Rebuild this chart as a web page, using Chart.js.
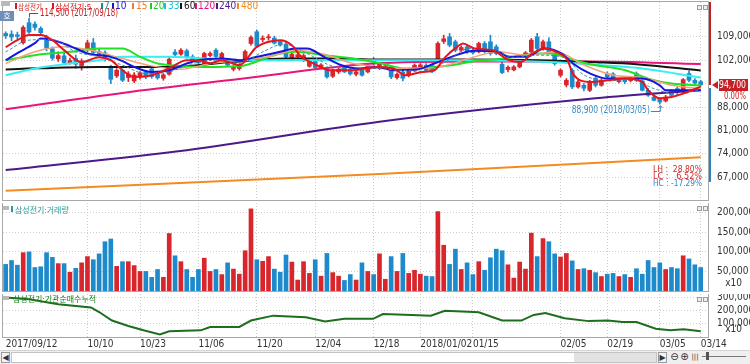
<!DOCTYPE html>
<html>
<head>
<meta charset="utf-8">
<script src="https://cdn.jsdelivr.net/npm/chart.js@4.4.0/dist/chart.umd.min.js"></script>
<style>
  body { margin: 0; width: 750px; height: 364px; overflow: hidden; background: #fff; position: relative; }
  canvas { position: absolute; left: 0; }
  .ui { position: absolute; box-sizing: border-box; font: 8px 'DejaVu Sans', sans-serif; color: #333; text-align: center; }
</style>
</head>
<body>
<canvas id="price" width="750" height="203" style="top:0"></canvas>
<canvas id="vol" width="750" height="91" style="top:203px"></canvas>
<canvas id="inst" width="750" height="56" style="top:294px"></canvas>

<div class="ui" style="left:0;top:350px;width:750px;height:14px;background:#efefef;border-top:1px solid #d4d4d4"></div>
<div class="ui" style="left:1px;top:352px;width:9px;height:11px;border:1px solid #9a9a9a;background:#f4f4f4;line-height:9px">&#9664;</div>
<div class="ui" style="left:11px;top:352px;width:646px;height:11px;border:1px solid #c4c4c4;background:#fff"></div>
<div class="ui" style="left:574px;top:353px;width:82px;height:9px;background:#e2e2e2"></div>
<div class="ui" style="left:658px;top:352px;width:9px;height:11px;border:1px solid #9a9a9a;background:#f4f4f4;line-height:9px">&#9654;</div>
<div class="ui" style="left:670px;top:351px;width:9px;height:12px;font-size:10px;line-height:12px">&#8854;</div>
<div class="ui" style="left:680px;top:351px;width:9px;height:12px;font-size:10px;line-height:12px">&#8853;</div>
<div class="ui" style="left:691px;top:352px;width:8px;height:11px;font-size:7px;line-height:11px">|||</div>
<div class="ui" style="left:702px;top:356px;width:44px;height:1px;background:#777"></div>
<div class="ui" style="left:706px;top:352px;width:3px;height:8px;background:#555"></div>

<script>
// ---- data -------------------------------------------------------------
const dateIdx    = [0, 14, 23, 33, 43, 53, 63, 71, 80, 95, 103, 112, 119];
const dateLabels = ['2017/09/12', '10/10', '10/23', '11/06', '11/20', '12/04', '12/18',
                    '2018/01/02', '01/15', '02/05', '02/19', '03/05', '03/14'];
const highDate = '2017/09/18';
const lowDate  = '2018/03/05';

const opens = [
  110000,109800,109600,107200,113200,112800,111500,108800,105400,102400,
  103300,101200,102500,100400,105300,107200,104600,104200,99800,97300,
  99000,96800,95800,97000,98500,99400,97900,96600,97800,104400,
  103800,104800,103000,102000,101000,103400,105000,102600,102000,99300,
  99500,101800,107000,110500,108200,108700,108600,107600,106800,102400,
  103000,102000,100200,102000,99700,99500,97200,98500,100000,99000,
  97800,99000,98500,101600,99600,99800,100000,96800,98400,97500,
  99000,100000,100500,100400,102400,107600,109000,107500,105000,106000,
  105000,104500,107000,107500,106000,100800,99200,99100,100000,103400,
  104500,109000,105500,107500,104000,97500,94600,99000,94000,94500,
  93000,96600,94500,98000,97900,95600,96000,95900,98000,95800,
  93000,91000,90600,89800,92800,93500,92500,98000,96000,95600];
const highs = [
  110500,110800,110400,112300,114500,113500,112000,109500,106000,104500,
  104200,102600,103500,102400,108000,108500,105500,104800,100500,99500,
  99400,98600,98300,98600,99000,99800,98400,98000,102800,105200,
  105500,105300,103600,102800,104400,104500,105500,104400,102500,100400,
  100900,105000,109300,111000,109300,109700,109200,108000,107500,104300,
  104200,103900,102400,102500,101000,100000,99400,99700,100500,99500,
  98900,99600,100800,102800,101300,100700,100400,98200,99000,99300,
  100900,101000,101000,100800,107500,109500,110000,108000,106300,106500,
  105600,107400,107600,109500,106600,101500,100300,100400,101900,104600,
  108500,110000,108000,108700,104500,99400,96500,99500,96000,95000,
  96000,97000,96500,98500,98300,96500,96500,96800,98500,96200,
  93500,91700,90800,91500,93200,94000,96500,98800,96500,96000];
const lows = [
  108500,107800,108300,106800,110000,111000,109500,104800,102000,101600,
  100800,100800,99600,99000,104500,103900,103000,101700,95000,96800,
  95600,95600,95300,96300,96500,96600,96300,96000,97500,103000,
  103400,102600,101800,100800,100600,103000,102800,102200,100200,98800,
  99000,101500,106500,105800,107500,108000,106800,106200,102500,102000,
  102700,101600,99900,99500,99400,96600,96800,98000,98300,97500,
  97300,97200,98200,99500,99200,99500,96500,96300,95800,97000,
  98600,99600,98700,98300,101800,107000,106000,104500,104600,104000,
  103800,104200,104200,103500,103600,98000,98500,98800,99700,103000,
  104000,105000,105000,104000,100500,97000,94000,93500,93600,92800,
  92600,94000,94200,96500,96000,95200,95000,95500,95600,92800,
  91200,89800,88900,89500,91200,92000,92200,95500,94800,94200];
const closes = [
  109300,108900,109100,111800,110400,111800,110200,105600,102600,103400,
  101300,101900,100800,101800,107200,104300,103600,102300,96300,99000,
  96000,97900,97600,98200,97000,97100,96700,97600,102300,103700,
  105000,103000,102200,101200,104000,104000,103100,104000,100500,100000,
  100500,104600,108800,106200,108600,109000,107100,106500,103000,103800,
  103600,103400,102000,99800,100600,97000,99000,99300,98500,97900,
  98500,97500,100300,101400,100800,100300,97000,97800,96600,99000,
  100500,100600,99000,98700,107000,108400,106500,105000,105800,104500,
  104200,107000,104600,104000,104000,98300,99900,100000,101500,104200,
  108000,105500,107500,104500,101000,99000,96000,94000,95500,93600,
  95600,94500,96000,97000,96300,96100,95600,96400,96000,93000,
  91500,90000,89500,91000,91500,92300,96200,96000,95200,94700];
const volumes = [
  68000,78000,66000,98000,100000,60000,62000,98000,86000,70000,
  70000,48000,58000,72000,88000,80000,95000,126000,133000,63000,
  75000,75000,65000,50000,50000,35000,55000,35000,147000,90000,
  75000,55000,35000,55000,84000,50000,55000,42000,72000,56000,
  43000,103000,210000,80000,76000,88000,56000,48000,92000,74000,
  28000,75000,45000,80000,38000,96000,47000,38000,27000,42000,
  28000,72000,50000,42000,95000,30000,88000,50000,96000,45000,
  53000,43000,38000,37000,203000,117000,68000,107000,55000,72000,
  42000,75000,53000,85000,107000,103000,67000,33000,74000,56000,
  148000,88000,134000,126000,95000,87000,96000,77000,55000,57000,
  53000,47000,37000,43000,45000,37000,42000,35000,57000,43000,
  78000,60000,72000,55000,60000,57000,90000,82000,67000,60000];

// moving averages: [candle index, price]
const ma5 = [[0,105900],[2,108000],[4,109500],[6,109500],[8,108000],[10,105000],[13,101400],[16,102900],[18,102000],[20,99000],[22,97000],[25,97500],[28,99600],[31,102000],[33,102000],[35,101100],[37,102000],[40,100500],[43,106000],[47,108000],[49,106500],[50.6,103000],[52.6,101100],[55.5,99000],[59.5,99000],[63.5,100000],[66.4,99500],[68.4,97500],[71.4,98500],[73.4,99000],[75.3,103000],[77.3,106000],[78.3,107000],[80.3,105500],[83.3,105000],[86.2,102000],[88.2,101500],[90.2,104000],[92.2,105500],[94.2,104500],[96.2,102000],[97.1,98000],[100.1,95500],[103.1,96000],[106.1,96500],[109,95500],[110,93000],[112,90600],[114,91000],[116,92000],[119,94100]];
const ma7 = [[0,104500],[4,108000],[8,108200],[12,104500],[16,103000],[20,100500],[24,98000],[28,98500],[32,101000],[36,102000],[40,101000],[44,104500],[47.6,106800],[51.6,104000],[55.5,100500],[59.5,99300],[63.5,99500],[67.4,99000],[71.4,98700],[75.3,101500],[79.3,105500],[83.3,105200],[87.2,102800],[91.2,103500],[95.2,103000],[99.1,97500],[103.1,95800],[107,96300],[111,93500],[115,91800],[119,93300]];
const ma10 = [[0,102000],[2,104100],[5,107100],[6,108500],[9,107500],[12,105500],[14,104000],[18,103000],[20,101700],[22,100000],[25,98500],[28,99000],[31,101000],[33,102000],[37,102500],[40,102000],[43,103000],[47,104500],[49.6,105500],[51.6,105500],[54.5,103000],[57.5,100500],[60.5,99500],[63.5,100000],[66.4,99000],[70.4,99200],[73.4,101000],[76.3,103000],[80.3,104800],[84.3,104500],[86.2,103000],[89.2,103000],[92.2,105500],[95.2,104000],[97.1,101000],[100.1,98000],[103.1,96500],[109,96500],[112,94500],[113,93000],[119,93000]];
const ma15 = [[0,101000],[5,104500],[10,106000],[15,104800],[20,102500],[25,100300],[30,99300],[35,101000],[40,102000],[45,103000],[49.6,105000],[54.5,103800],[59.5,101000],[64.4,100000],[69.4,99500],[74.4,100000],[79.3,102500],[84.3,104500],[89.2,103500],[94.2,104500],[99.1,100500],[104.1,97500],[109,96800],[114,94500],[119,93500]];
const ma20 = [[0,102000],[5,103500],[11,104500],[16,105500],[20,105500],[23,103000],[26,101000],[28,100500],[34,100000],[40,100200],[46,103500],[49.6,104500],[54.5,103500],[59.5,102500],[64.4,101000],[68.4,99500],[72.4,99800],[76.3,100500],[80.3,101700],[85.3,102500],[91.2,104000],[93.2,104000],[97.1,102200],[100.1,100800],[106.1,99000],[110,96500],[114,95000],[119,94500]];
const ma33 = [[0,97500],[5,99500],[11,101000],[16,102000],[20,103000],[28,103000],[40,102000],[59.5,102000],[79.3,102000],[94.2,101400],[102.1,100500],[109,99500],[119,96800]];
const ma60 = [[0,99250],[16,100000],[28,100000],[39,101500],[48,102500],[56.5,102500],[63.5,102200],[79.3,102200],[91.2,102000],[101.1,101400],[108,100800],[119,98900]];
const ma120 = [[0,87300],[20,92200],[40,96350],[63,101000],[80,101600],[100,101600],[119,100850]];
const ma240 = [[0,69150],[31,75100],[64,83600],[101,90600],[119,93000]];
const ma480 = [[0,62950],[64,67950],[119,72950]];

// institutional net buying, cumulative (x10)
const instIdx = [0,4,9,14.6,16,18.2,21,23.6,26.4,28,33.4,35,40,42,45.8,51.4,54.7,58,62.9,64.6,69.5,72.8,75.2,81,85,88.3,90.4,92.4,95.7,99.8,103.1,105.6,108,111.3,113.8,116.1,119];
const instVal = [297800,285200,248100,223700,188900,124400,83000,50400,18500,43000,50400,75600,75600,124400,161500,149600,117000,137000,137000,174000,166700,161500,198500,186700,124400,124400,166700,181500,142200,120000,124400,112600,112600,63000,50400,57800,43000];

const priceTicks = [67000, 74000, 81000, 88000, 95000, 102000, 109000];
const volTicks = [50000, 100000, 150000, 200000];
const instTicks = [100000, 200000, 300000];

// ---- setup ------------------------------------------------------------
const NUM = "'Liberation Sans Narrow','DejaVu Sans Condensed','Liberation Sans',sans-serif";
const KR = "'Noto Sans CJK KR','Noto Sans',sans-serif";
const RED = '#d8262c';
const BLUE = '#1d8bcb';
const GRID = '#cdcdcd';
const idx = opens.map((_, i) => i);
const barColor = idx.map(i => closes[i] >= opens[i] ? RED : BLUE);
const comma = v => v.toLocaleString('en-US');

function text(ctx, s, x, y, color, size, w, align, family) {
  ctx.font = size + 'px ' + (family || NUM);
  ctx.fillStyle = color;
  ctx.textAlign = align || 'left';
  ctx.textBaseline = 'middle';
  if (w) ctx.fillText(s, x, y, w); else ctx.fillText(s, x, y);
}

function frame(ctx, a) {
  ctx.strokeStyle = '#a8a8a8';
  ctx.lineWidth = 1;
  ctx.strokeRect(a.left - 0.5, a.top - 0.5, a.width + 1, a.height + 1);
  // two small window buttons in the top right corner
  ctx.strokeStyle = '#9c9c9c';
  ctx.fillStyle = '#efefef';
  [697, 703].forEach(bx => { ctx.fillRect(bx, a.top + 3, 4, 4); ctx.strokeRect(bx + 0.5, a.top + 3.5, 4, 4); });
}

// no automatic padding: the panels have to line up exactly
const noPad = s => { s.paddingTop = 0; s.paddingBottom = 0; s.paddingLeft = 0; s.paddingRight = 0; };

function xAxis(showLabels) {
  return {
    type: 'linear', min: -0.46, max: 120.25, offset: false, bounds: 'data',
    afterBuildTicks: s => { s.ticks = dateIdx.map(v => ({ value: v })); },
    grid: { offset: false, drawTicks: false, color: c => (c.tick && c.tick.value === 0) ? 'rgba(0,0,0,0)' : GRID },
    border: { display: false, dash: [1, 2] },
    ticks: {
      display: showLabels, autoSkip: false, maxRotation: 0, minRotation: 0, align: 'start', padding: 1,
      color: '#333', font: { family: NUM, size: 10 },
      callback: v => dateLabels[dateIdx.indexOf(v)]
    },
    afterFit: s => { noPad(s); s.height = showLabels ? 13 : 0; }
  };
}

function yAxis(min, max, ticks, fmt) {
  return {
    type: 'linear', position: 'right', min, max, bounds: 'data',
    afterBuildTicks: s => { s.ticks = ticks.map(v => ({ value: v })); },
    grid: { drawTicks: false, color: GRID },
    border: { display: false, dash: [1, 2] },
    ticks: { padding: 9, color: '#333', font: { family: NUM, size: 10 }, callback: fmt },
    afterFit: s => { noPad(s); s.width = 42; }
  };
}

const baseOpts = {
  responsive: false, animation: false, events: [],
  plugins: { legend: { display: false }, tooltip: { enabled: false } }
};

// ---- price panel ------------------------------------------------------
const maLine = (pts, color, width, dash) => ({
  type: 'line', data: pts.map(p => ({ x: p[0], y: p[1] })),
  borderColor: color, borderWidth: width, borderDash: dash || [],
  pointRadius: 0, tension: 0.4, cubicInterpolationMode: 'monotone', order: 1
});

const pricePlugin = {
  id: 'priceDecor',
  afterDraw(chart) {
    const { ctx, chartArea: a, scales: { x, y } } = chart;
    ctx.save();
    frame(ctx, a);

    // top-left badges
    ctx.fillStyle = '#b9b9b9'; ctx.fillRect(1, 1, 9, 5);
    ctx.fillStyle = '#6f8fb8'; ctx.fillRect(0, 11, 14, 10);
    text(ctx, '호', 7, 16, '#fff', 8, 0, 'center', KR);

    // legend
    const items = [
      ['삼성전기', '#c81e1e', 15, 18, 24, KR],
      ['삼성전기:5', '#e0141c', 52, 55, 43, KR],
      ['7', '#168c8c', 101, 104, 0], ['10', '#1414d2', 112, 115, 0],
      ['15', '#f07a30', 132, 136, 0], ['20', '#1ec81e', 150, 153, 0],
      ['33', '#12c4d6', 164, 168, 0], ['60', '#111', 180, 184, 0],
      ['120', '#e0157a', 195, 198, 0], ['240', '#4b1a8a', 216, 219, 0],
      ['480', '#f08a20', 237, 241, 0]
    ];
    items.forEach(([s, c, mx, tx, w, fam]) => {
      ctx.fillStyle = c; ctx.fillRect(mx, 3, 2, 6);
      text(ctx, s, tx, 6.5, c, fam ? 8 : 10, w, 'left', fam);
    });

    // highest / lowest price marks
    const hi = highs.indexOf(Math.max(...highs));
    const lo = lows.indexOf(Math.min(...lows));
    const hx = x.getPixelForValue(hi), hy = y.getPixelForValue(highs[hi]);
    ctx.strokeStyle = '#c82020'; ctx.lineWidth = 1;
    ctx.beginPath(); ctx.moveTo(hx + 0.5, hy - 1); ctx.lineTo(hx + 0.5, 13.5); ctx.lineTo(hx + 9, 13.5); ctx.stroke();
    text(ctx, comma(highs[hi]) + ' (' + highDate + ')', 40, 13, '#c82020', 10, 78);

    const lx = x.getPixelForValue(lo), ly = y.getPixelForValue(lows[lo]);
    ctx.strokeStyle = '#3a8bc2';
    ctx.beginPath(); ctx.moveTo(lx - 9, ly + 7.5); ctx.lineTo(lx + 0.5, ly + 7.5); ctx.lineTo(lx + 0.5, ly + 2); ctx.stroke();
    ctx.beginPath(); ctx.moveTo(lx - 1.5, ly + 4); ctx.lineTo(lx + 0.5, ly + 1.5); ctx.lineTo(lx + 2.5, ly + 4); ctx.stroke();
    text(ctx, comma(lows[lo]) + ' (' + lowDate + ')', lx - 10, ly + 6.5, '#3a8bc2', 10, 78, 'right');

    // current price marker on the axis
    const cur = closes[closes.length - 1];
    const cy = Math.round(y.getPixelForValue(cur));
    ctx.fillStyle = '#c42026'; ctx.fillRect(709, a.top, 2, cy - a.top);
    ctx.fillStyle = '#2a83c4'; ctx.fillRect(709, cy + 3, 2, y.getPixelForValue(65600) - cy - 3);
    ctx.fillStyle = '#c42026';
    ctx.beginPath(); ctx.moveTo(712, cy); ctx.lineTo(718, cy - 4); ctx.lineTo(718, cy + 4); ctx.closePath(); ctx.fill();
    ctx.fillRect(719, cy - 6, 29, 12);
    text(ctx, comma(cur), 746, cy + 0.5, '#fff', 10, 27, 'right');
    text(ctx, '0.00%', 746, cy + 11, '#d02020', 10, 22, 'right');

    // period statistics
    const H = Math.max(...highs), L = Math.min(...lows);
    text(ctx, 'LH :  ' + ((H - L) / L * 100).toFixed(2) + '%', 702, 169.7, '#d02828', 9, 49, 'right');
    text(ctx, 'LC :   ' + ((cur - L) / L * 100).toFixed(2) + '%', 702, 176.5, '#d02828', 9, 49, 'right');
    text(ctx, 'HC : ' + ((cur - H) / H * 100).toFixed(2) + '%', 702, 183.3, '#2a88c6', 9, 49, 'right');
    ctx.restore();
  }
};

new Chart(document.getElementById('price'), {
  type: 'bar',
  data: {
    datasets: [
      maLine(ma5, '#e8141c', 2),
      maLine(ma7, '#3d8fa8', 1, [3, 2]),
      maLine(ma10, '#1515e0', 2),
      maLine(ma15, '#f3a27a', 1.5),
      maLine(ma20, '#22e022', 2),
      maLine(ma33, '#38eef0', 2),
      maLine(ma60, '#141414', 2),
      maLine(ma120, '#e8157a', 2),
      maLine(ma240, '#4b1a8a', 2),
      maLine(ma480, '#f28c22', 2),
      { type: 'bar', data: idx.map(i => ({ x: i, y: [opens[i], closes[i]] })), backgroundColor: barColor,
        barThickness: 4, minBarLength: 1, grouped: false, order: 4 },
      { type: 'bar', data: idx.map(i => ({ x: i, y: [lows[i], highs[i]] })), backgroundColor: barColor,
        barThickness: 1, grouped: false, order: 5 }
    ]
  },
  options: {
    ...baseOpts,
    layout: { padding: { left: 3, top: 2, bottom: 3, right: 0 } },
    scales: {
      x: xAxis(false),
      y: yAxis(60200, 119400, priceTicks, v => v === 95000 ? '' : comma(v))
    }
  },
  plugins: [pricePlugin]
});

// ---- volume panel -----------------------------------------------------
const volPlugin = {
  id: 'volDecor',
  afterDraw(chart) {
    const { ctx, chartArea: a } = chart;
    ctx.save();
    frame(ctx, a);
    ctx.fillStyle = '#b9b9b9'; ctx.fillRect(3, 3, 6, 4);
    ctx.fillStyle = '#2a9a9a'; ctx.fillRect(11, 3, 2, 6);
    text(ctx, '삼성전기:거래량', 15, 6.5, '#2a9a9a', 8, 62, 'left', KR);
    text(ctx, 'x10', 742, 80, '#333', 10, 0, 'right');
    ctx.restore();
  }
};

new Chart(document.getElementById('vol'), {
  type: 'bar',
  data: {
    datasets: [{ data: idx.map(i => ({ x: i, y: volumes[i] })), backgroundColor: barColor, barThickness: 4 }]
  },
  options: {
    ...baseOpts,
    layout: { padding: { left: 3, top: 0, bottom: 3, right: 0 } },
    scales: { x: xAxis(false), y: yAxis(0, 225000, volTicks, v => comma(v)) }
  },
  plugins: [volPlugin]
});

// ---- institutional panel ----------------------------------------------
const instPlugin = {
  id: 'instDecor',
  afterDraw(chart) {
    const { ctx, chartArea: a } = chart;
    ctx.save();
    frame(ctx, a);
    ctx.fillStyle = '#b9b9b9'; ctx.fillRect(3, 2, 6, 4);
    text(ctx, '삼성전기:기관순매수누적', 13, 5, '#1c7c1c', 8, 96, 'left', KR);
    text(ctx, 'x10', 742, 35, '#333', 10, 0, 'right');
    ctx.restore();
  }
};

new Chart(document.getElementById('inst'), {
  type: 'line',
  data: {
    datasets: [{ data: instIdx.map((v, i) => ({ x: v, y: instVal[i] })), borderColor: '#1e6e1e',
      borderWidth: 2, pointRadius: 0, tension: 0 }]
  },
  options: {
    ...baseOpts,
    layout: { padding: { left: 3, top: 0, bottom: 0, right: 0 } },
    scales: { x: xAxis(true), y: yAxis(0, 325000, instTicks, v => comma(v)) }
  },
  plugins: [instPlugin]
});
</script>
</body>
</html>
